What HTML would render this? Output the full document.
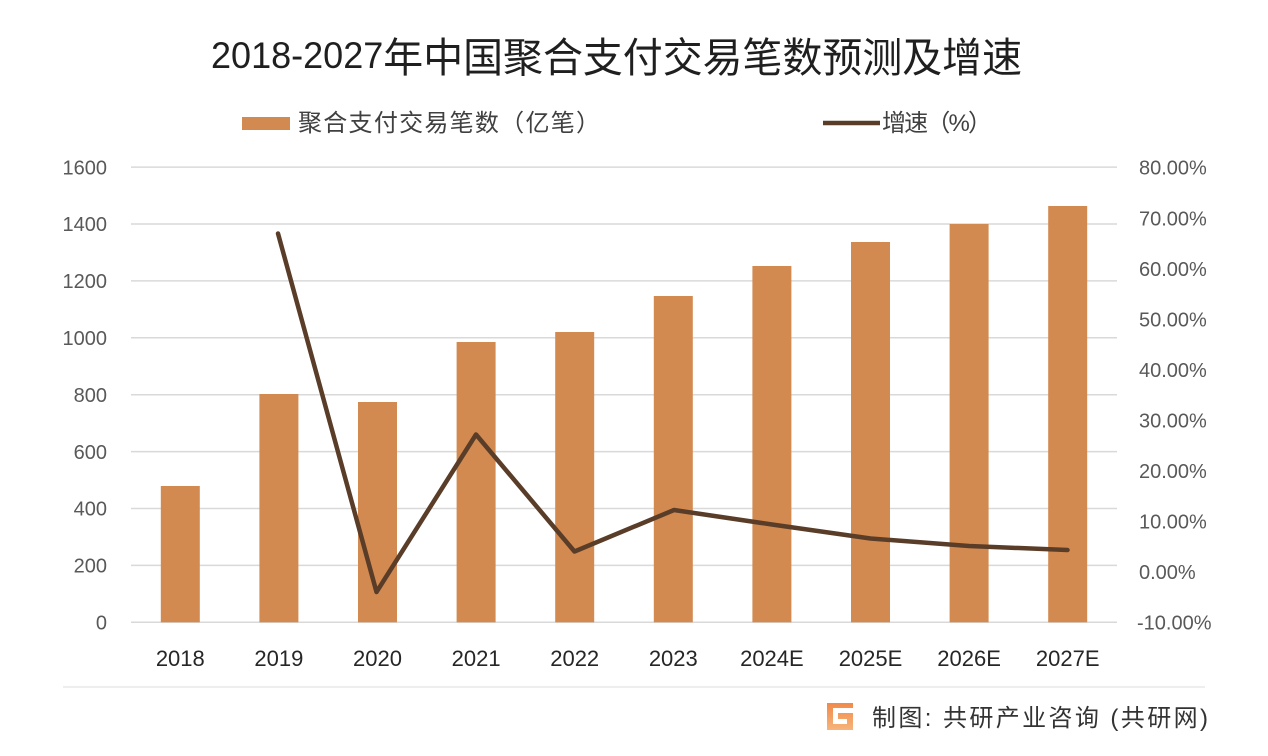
<!DOCTYPE html>
<html>
<head>
<meta charset="utf-8">
<style>
  html,body{margin:0;padding:0;background:#ffffff;}
  body{width:1268px;height:756px;overflow:hidden;}
  svg{display:block;}
  text{font-family:"Liberation Sans","Noto Sans CJK SC",sans-serif;}
</style>
</head>
<body>
<svg width="1268" height="756" viewBox="0 0 1268 756" xmlns="http://www.w3.org/2000/svg">
  <rect x="0" y="0" width="1268" height="756" fill="#ffffff"/>

  <!-- Title -->
  <text x="211" y="68" font-size="37" fill="#1f1f1f" textLength="811" lengthAdjust="spacingAndGlyphs">2018-2027<tspan font-size="41" dy="4" font-family="'Noto Sans CJK SC',sans-serif">年中国聚合支付交易笔数预测及增速</tspan></text>

  <!-- Legend -->
  <rect x="242" y="117" width="48" height="13" fill="#D38A50"/>
  <text x="298" y="131" font-size="24" fill="#404040" textLength="302" lengthAdjust="spacing">聚合支付交易笔数（亿笔）</text>
  <line x1="823" y1="123" x2="880" y2="123" stroke="#5a3d28" stroke-width="4.5"/>
  <text x="882" y="131" font-size="24" fill="#404040" textLength="110" lengthAdjust="spacing">增速（%）</text>

  <!-- Gridlines -->
  <g stroke="#d9d9d9" stroke-width="1.5">
    <line x1="131" y1="622.3" x2="1117" y2="622.3"/>
    <line x1="131" y1="565.4" x2="1117" y2="565.4"/>
    <line x1="131" y1="508.5" x2="1117" y2="508.5"/>
    <line x1="131" y1="451.6" x2="1117" y2="451.6"/>
    <line x1="131" y1="394.7" x2="1117" y2="394.7"/>
    <line x1="131" y1="337.8" x2="1117" y2="337.8"/>
    <line x1="131" y1="280.9" x2="1117" y2="280.9"/>
    <line x1="131" y1="224.0" x2="1117" y2="224.0"/>
    <line x1="131" y1="167.1" x2="1117" y2="167.1"/>
  </g>

  <!-- Left axis labels -->
  <g font-size="20" fill="#595959" text-anchor="end">
    <text x="107" y="629.5">0</text>
    <text x="107" y="572.6">200</text>
    <text x="107" y="515.7">400</text>
    <text x="107" y="458.8">600</text>
    <text x="107" y="401.9">800</text>
    <text x="107" y="345">1000</text>
    <text x="107" y="288.1">1200</text>
    <text x="107" y="231.2">1400</text>
    <text x="107" y="174.3">1600</text>
  </g>

  <!-- Right axis labels -->
  <g font-size="20" fill="#595959" text-anchor="start">
    <text x="1137" y="629.5">-10.00%</text>
    <text x="1139" y="579">0.00%</text>
    <text x="1139" y="528.5">10.00%</text>
    <text x="1139" y="478">20.00%</text>
    <text x="1139" y="427.5">30.00%</text>
    <text x="1139" y="377">40.00%</text>
    <text x="1139" y="326.5">50.00%</text>
    <text x="1139" y="276">60.00%</text>
    <text x="1139" y="225.5">70.00%</text>
    <text x="1139" y="174.5">80.00%</text>
  </g>

  <!-- Bars -->
  <g fill="#D38A50">
    <rect x="160.8" y="486" width="39" height="136.3"/>
    <rect x="259.4" y="394" width="39" height="228.3"/>
    <rect x="358" y="402" width="39" height="220.3"/>
    <rect x="456.6" y="342" width="39" height="280.3"/>
    <rect x="555.2" y="332" width="39" height="290.3"/>
    <rect x="653.8" y="296" width="39" height="326.3"/>
    <rect x="752.4" y="266" width="39" height="356.3"/>
    <rect x="851" y="242" width="39" height="380.3"/>
    <rect x="949.6" y="224" width="39" height="398.3"/>
    <rect x="1048.2" y="206" width="39" height="416.3"/>
  </g>

  <!-- Growth line -->
  <polyline fill="none" stroke="#5a3d28" stroke-width="4.5" stroke-linejoin="round" stroke-linecap="round"
    points="278,233.5 376.5,592 476,434.5 574.5,551.5 674,510 772,524.5 870.5,538.5 969,546 1067.5,550"/>

  <!-- X axis labels -->
  <g font-size="22" fill="#262626" text-anchor="middle">
    <text x="180.3" y="666">2018</text>
    <text x="278.9" y="666">2019</text>
    <text x="377.5" y="666">2020</text>
    <text x="476.1" y="666">2021</text>
    <text x="574.7" y="666">2022</text>
    <text x="673.3" y="666">2023</text>
    <text x="771.9" y="666">2024E</text>
    <text x="870.5" y="666">2025E</text>
    <text x="969.1" y="666">2026E</text>
    <text x="1067.7" y="666">2027E</text>
  </g>

  <!-- Footer separator -->
  <line x1="63" y1="687" x2="1205" y2="687" stroke="#eeeeee" stroke-width="2"/>

  <!-- Logo -->
  <defs>
    <linearGradient id="lg" x1="0" y1="0" x2="0" y2="1">
      <stop offset="0" stop-color="#f08a4a"/>
      <stop offset="1" stop-color="#f6b47a"/>
    </linearGradient>
  </defs>
  <rect x="827" y="703" width="26" height="27" fill="url(#lg)"/>
  <rect x="833" y="708" width="20" height="5" fill="#ffffff"/>
  <rect x="833" y="713" width="5" height="11" fill="#ffffff"/>
  <rect x="838" y="719" width="9" height="5" fill="#ffffff"/>

  <!-- Footer text -->
  <text x="872" y="726" font-size="24" fill="#333333" textLength="336" lengthAdjust="spacing">制图: 共研产业咨询 (共研网)</text>
</svg>
</body>
</html>
